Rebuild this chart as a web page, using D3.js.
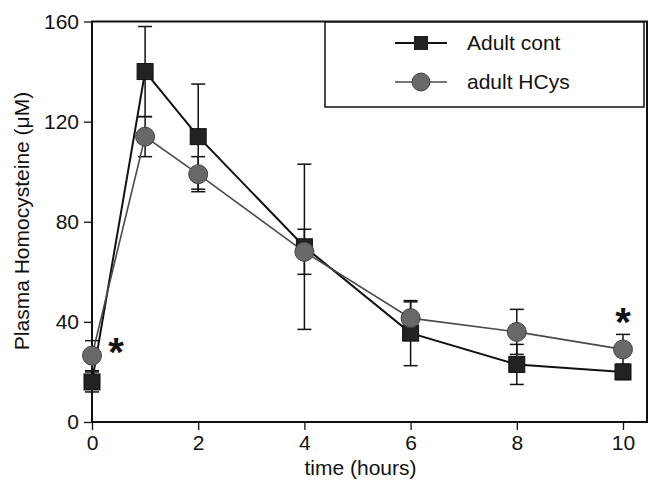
<!DOCTYPE html>
<html lang="en">
<head>
    <meta charset="UTF-8">
    <title></title>
    <style type="text/css">
        html, body { padding:0; margin:0; background:#fff; }
        text { font-family: "Liberation Sans", Arial, sans-serif; fill:#111; }
    </style>
</head>
<body>
<script src="https://d3js.org/d3.v7.min.js"></script>
<script>
    var times = [0, 1, 2, 4, 6, 8, 10];
    var contMean = [16, 140, 114, 70, 35.5, 23, 20];
    var contErr = [4, 18, 21, 33, 13, 8, 3];
    var hcysMean = [26.5, 114, 99, 68, 41.5, 36, 29];
    var hcysErr = [6, 8, 7, 9, 6.5, 9, 6];
    var xTicks = [0, 2, 4, 6, 8, 10];
    var yTicks = [0, 40, 80, 120, 160];
    var seriesNames = ['Adult cont', 'adult HCys'];
    var stars = [{t: 0, v: 28}, {t: 10, v: 40}];

    var chart = {};

    chart.options = {
        width: 653,
        height: 485,
        left: 92,
        right: 623,
        top: 21.5,
        bottom: 422,
        frameRight: 647
    };

    chart.init = function() {
        var o = this.options;
        var svg = d3.select('body').append('svg')
            .attr('width', o.width)
            .attr('height', o.height);

        var x = d3.scaleLinear().domain([0, 10]).range([o.left, o.right]);
        var y = d3.scaleLinear().domain([0, 160]).range([o.bottom, o.top]);

        // frame
        svg.append('rect')
            .attr('x', o.left).attr('y', o.top)
            .attr('width', o.frameRight - o.left).attr('height', o.bottom - o.top)
            .attr('fill', 'none').attr('stroke', '#111').attr('stroke-width', 2);

        var xAxis = d3.axisBottom(x).tickValues(xTicks).tickSize(8).tickSizeOuter(0).tickPadding(5);
        var yAxis = d3.axisLeft(y).tickValues(yTicks).tickSize(8).tickSizeOuter(0).tickPadding(5);

        var gx = svg.append('g').attr('transform', 'translate(0,' + o.bottom + ')').call(xAxis);
        var gy = svg.append('g').attr('transform', 'translate(' + o.left + ',0)').call(yAxis);
        [gx, gy].forEach(function(g) {
            g.select('.domain').remove();
            g.selectAll('line').attr('stroke', '#111').attr('stroke-width', 1.3);
            g.selectAll('text').attr('font-size', 21).attr('fill', '#111')
              .style('font-family', '"Liberation Sans", Arial, sans-serif');
        });

        svg.append('text')
            .attr('x', (o.left + o.right) / 2 + 3).attr('y', 475)
            .attr('text-anchor', 'middle').attr('font-size', 21)
            .text('time (hours)');

        svg.append('text')
            .attr('transform', 'translate(29,221) rotate(-90)')
            .attr('text-anchor', 'middle').attr('font-size', 21)
            .text('Plasma Homocysteine (\u03bcM)');

        var cont = times.map(function(t, i) { return {t: t, v: contMean[i], e: contErr[i]}; });
        var hcys = times.map(function(t, i) { return {t: t, v: hcysMean[i], e: hcysErr[i]}; });

        this.renderErrors(svg, x, y, cont);
        this.renderErrors(svg, x, y, hcys);

        var line = d3.line().x(function(d) { return x(d.t); }).y(function(d) { return y(d.v); });
        svg.append('path').datum(cont).attr('d', line)
            .attr('fill', 'none').attr('stroke', '#111').attr('stroke-width', 2);
        svg.append('path').datum(hcys).attr('d', line)
            .attr('fill', 'none').attr('stroke', '#4a4a4a').attr('stroke-width', 1.6);

        svg.selectAll('.sq').data(cont).enter().append('rect')
            .attr('x', function(d) { return x(d.t) - 8; })
            .attr('y', function(d) { return y(d.v) - 8; })
            .attr('width', 16).attr('height', 16)
            .attr('fill', '#222').attr('stroke', '#111').attr('stroke-width', 1);

        svg.selectAll('.ci').data(hcys).enter().append('circle')
            .attr('cx', function(d) { return x(d.t); })
            .attr('cy', function(d) { return y(d.v); })
            .attr('r', 9.5)
            .attr('fill', '#686868').attr('stroke', '#444').attr('stroke-width', 1);

        svg.selectAll('.star').data(stars).enter().append('text')
            .attr('x', function(d) { return x(d.t) + (d.t === 0 ? 24 : 0); })
            .attr('y', function(d) { return y(d.v) + 14; })
            .attr('text-anchor', 'middle').attr('font-size', 40).attr('font-weight', 'bold')
            .text('*');

        this.renderLegend(svg);
    };

    chart.renderErrors = function(svg, x, y, data) {
        var g = svg.append('g').attr('stroke', '#111').attr('stroke-width', 1.5);
        data.forEach(function(d) {
            var cx = x(d.t);
            g.append('line').attr('x1', cx).attr('x2', cx)
                .attr('y1', y(d.v - d.e)).attr('y2', y(d.v + d.e));
            [d.v - d.e, d.v + d.e].forEach(function(v) {
                g.append('line').attr('x1', cx - 7).attr('x2', cx + 7)
                    .attr('y1', y(v)).attr('y2', y(v));
            });
        });
    };

    chart.renderLegend = function(svg) {
        var g = svg.append('g');
        g.append('rect').attr('x', 325).attr('y', 22).attr('width', 319).attr('height', 85)
            .attr('fill', '#fff').attr('stroke', '#111').attr('stroke-width', 1.5);
        seriesNames.forEach(function(name, i) {
            var cy = 43 + i * 39;
            g.append('line').attr('x1', 395).attr('x2', 447).attr('y1', cy).attr('y2', cy)
                .attr('stroke', i === 0 ? '#111' : '#4a4a4a').attr('stroke-width', i === 0 ? 1.8 : 1.5);
            if (i === 0) {
                g.append('rect').attr('x', 414).attr('y', cy - 7).attr('width', 14).attr('height', 14)
                    .attr('fill', '#222');
            } else {
                g.append('circle').attr('cx', 421).attr('cy', cy).attr('r', 9)
                    .attr('fill', '#686868').attr('stroke', '#444');
            }
            g.append('text').attr('x', 467).attr('y', cy + 7).attr('font-size', 21).text(name);
        });
    };

    chart.init();
</script>
</body>
</html>
